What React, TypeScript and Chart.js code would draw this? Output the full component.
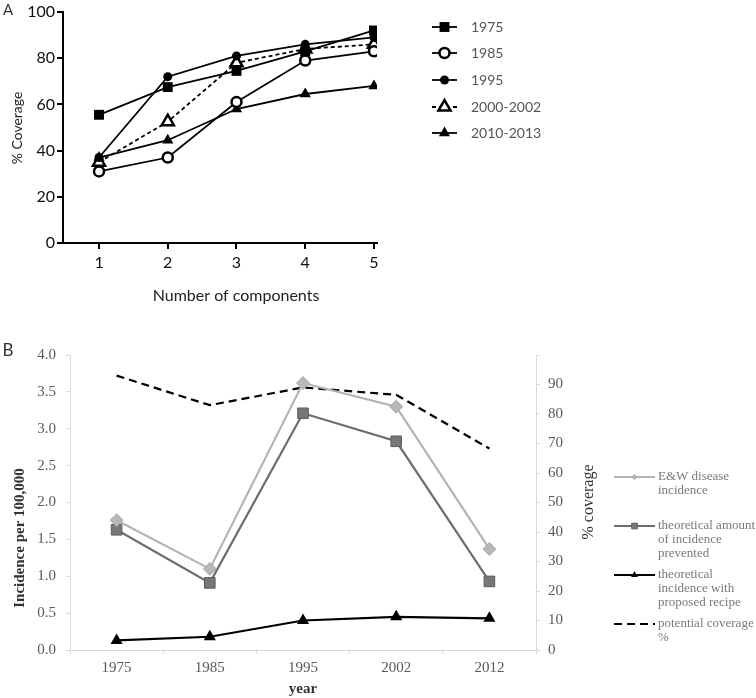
import React, { useEffect, useRef } from "react";
import { Chart, registerables } from "chart.js";
Chart.register(...registerables);

// ---------- Panel A data ----------
const componentCounts = [1, 2, 3, 4, 5];
const cov1975 = [55.5, 67.5, 74.5, 83, 92];
const cov1985 = [31, 37, 61, 79, 83];
const cov1995 = [37, 72, 81, 86, 89];
const cov2000 = [35, 52.5, 78, 84, 86];
const cov2010 = [37, 44.5, 58, 64.5, 68];
const seriesNamesA = ["1975", "1985", "1995", "2000-2002", "2010-2013"];

// ---------- Panel B data ----------
const years = ["1975", "1985", "1995", "2002", "2012"];
const ewIncidence = [1.76, 1.1, 3.62, 3.3, 1.37];
const preventedIncidence = [1.63, 0.91, 3.21, 2.83, 0.93];
const recipeIncidence = [0.13, 0.18, 0.4, 0.45, 0.43];
const potentialCoverage = [93, 83, 89, 86.5, 68.3];
const legendLinesB = [
  ["E&W disease", "incidence"],
  ["theoretical amount", "of incidence", "prevented"],
  ["theoretical", "incidence with", "proposed recipe"],
  ["potential coverage", "%"],
];

type TextItem = {
  text: string;
  x: number;
  y: number;
  font: string;
  color: string;
  rotate?: number;
  align?: CanvasTextAlign;
};

function drawMarker(
  ctx: CanvasRenderingContext2D,
  style: string,
  x: number,
  y: number,
  r: number,
  fill: string,
  stroke: string,
  bw: number
) {
  ctx.beginPath();
  if (style === "rect") {
    const s = Math.SQRT1_2 * r;
    ctx.rect(x - s, y - s, 2 * s, 2 * s);
  } else if (style === "circle") {
    ctx.arc(x, y, r, 0, Math.PI * 2);
  } else if (style === "triangle") {
    ctx.moveTo(x, y - r);
    ctx.lineTo(x + r * Math.sin((2 * Math.PI) / 3), y - r * Math.cos((2 * Math.PI) / 3));
    ctx.lineTo(x + r * Math.sin((4 * Math.PI) / 3), y - r * Math.cos((4 * Math.PI) / 3));
    ctx.closePath();
  } else if (style === "rectRot") {
    ctx.moveTo(x - r, y);
    ctx.lineTo(x, y - r);
    ctx.lineTo(x + r, y);
    ctx.lineTo(x, y + r);
    ctx.closePath();
  }
  ctx.fillStyle = fill;
  ctx.fill();
  if (bw > 0) {
    ctx.lineWidth = bw;
    ctx.strokeStyle = stroke;
    ctx.stroke();
  }
}

function textPlugin(items: TextItem[]) {
  return {
    id: "extraText",
    afterDraw(chart: any) {
      const ctx: CanvasRenderingContext2D = chart.ctx;
      items.forEach((it) => {
        ctx.save();
        ctx.translate(it.x, it.y);
        if (it.rotate) ctx.rotate(it.rotate);
        ctx.font = it.font;
        ctx.fillStyle = it.color;
        ctx.textAlign = it.align || "center";
        ctx.textBaseline = "middle";
        ctx.fillText(it.text, 0, 0);
        ctx.restore();
      });
    },
  };
}

type LegendCfg = {
  x0: number;
  x1: number;
  textX: number;
  lineHeight: number;
  font: string;
  color: string;
  rows: { ds: number; y: number; lines: string[]; r?: number }[];
};

function legendPlugin(cfg: LegendCfg) {
  return {
    id: "customLegend",
    afterDraw(chart: any) {
      const ctx: CanvasRenderingContext2D = chart.ctx;
      cfg.rows.forEach((row) => {
        const ds: any = chart.data.datasets[row.ds];
        ctx.save();
        ctx.strokeStyle = ds.borderColor;
        ctx.lineWidth = ds.borderWidth;
        ctx.setLineDash(ds.borderDash || []);
        ctx.beginPath();
        ctx.moveTo(cfg.x0, row.y);
        ctx.lineTo(cfg.x1, row.y);
        ctx.stroke();
        ctx.setLineDash([]);
        const r = row.r !== undefined ? row.r : ds.pointRadius;
        if (r > 0) {
          drawMarker(
            ctx,
            ds.pointStyle,
            (cfg.x0 + cfg.x1) / 2,
            row.y,
            r,
            ds.pointBackgroundColor,
            ds.pointBorderColor,
            ds.pointBorderWidth
          );
        }
        ctx.font = cfg.font;
        ctx.fillStyle = cfg.color;
        ctx.textAlign = "left";
        ctx.textBaseline = "middle";
        row.lines.forEach((ln, i) => ctx.fillText(ln, cfg.textX, row.y + i * cfg.lineHeight));
        ctx.restore();
      });
    },
  };
}

const sansA = "Lato";
const serifB = "'Liberation Serif'";

function topConfig(): any {
  const mk = (vals: number[]) => componentCounts.map((c, i) => ({ x: c, y: vals[i] }));
  const base = { borderColor: "#000", borderWidth: 1.8, pointBorderColor: "#000" };
  const datasets = [
    { ...base, label: seriesNamesA[0], data: mk(cov1975), pointStyle: "rect", pointRadius: 7, pointBackgroundColor: "#000", pointBorderWidth: 0 },
    { ...base, label: seriesNamesA[1], data: mk(cov1985), pointStyle: "circle", pointRadius: 5, pointBackgroundColor: "#fff", pointBorderWidth: 2.5 },
    { ...base, label: seriesNamesA[2], data: mk(cov1995), pointStyle: "circle", pointRadius: 4.5, pointBackgroundColor: "#000", pointBorderWidth: 0 },
    { ...base, label: seriesNamesA[3], data: mk(cov2000), borderDash: [4, 3], pointStyle: "triangle", pointRadius: 7, pointBackgroundColor: "#fff", pointBorderWidth: 2.5 },
    { ...base, label: seriesNamesA[4], data: mk(cov2010), pointStyle: "triangle", pointRadius: 6.5, pointBackgroundColor: "#000", pointBorderWidth: 0 },
  ];
  const axisGrid = { drawOnChartArea: false, drawTicks: true, tickLength: 6, color: "#000", lineWidth: 2 };
  return {
    type: "line",
    data: { datasets },
    options: {
      animation: false,
      responsive: false,
      devicePixelRatio: 1,
      layout: { padding: { top: 12, left: 0, right: 756 - 377, bottom: 0 } },
      plugins: { legend: { display: false }, tooltip: { enabled: false } },
      elements: { line: { tension: 0 } },
      scales: {
        x: {
          type: "linear",
          min: 0.476,
          max: 5.044,
          afterBuildTicks: (s: any) => {
            s.ticks = componentCounts.map((v) => ({ value: v }));
          },
          afterFit: (s: any) => {
            s.height = 336 - 243;
          },
          grid: axisGrid,
          border: { color: "#000", width: 2 },
          ticks: { padding: 4, color: "#111", font: { family: sansA, size: 16 }, callback: (v: any) => String(v) },
        },
        y: {
          min: 0,
          max: 100,
          afterFit: (s: any) => {
            s.width = 63;
          },
          grid: axisGrid,
          border: { color: "#000", width: 2 },
          ticks: { stepSize: 20, padding: 2, color: "#111", font: { family: sansA, size: 16 } },
        },
      },
    },
    plugins: [
      textPlugin([
        { text: "A", x: 8, y: 10, font: `15px ${sansA}`, color: "#333" },
        { text: "% Coverage", x: 17, y: 128, font: `14px ${sansA}`, color: "#222", rotate: -Math.PI / 2 },
        { text: "Number of components", x: 236, y: 296, font: `16px ${sansA}`, color: "#222" },
      ]),
      legendPlugin({
        x0: 432,
        x1: 457,
        textX: 471,
        lineHeight: 16,
        font: `14px ${sansA}`,
        color: "#555",
        rows: [
          { ds: 0, y: 27, lines: [seriesNamesA[0]] },
          { ds: 1, y: 53, lines: [seriesNamesA[1]] },
          { ds: 2, y: 80, lines: [seriesNamesA[2]] },
          { ds: 3, y: 107, lines: [seriesNamesA[3]] },
          { ds: 4, y: 133, lines: [seriesNamesA[4]] },
        ],
      }),
    ],
  };
}

function bottomConfig(): any {
  const datasets = [
    {
      label: legendLinesB[0].join(" "),
      data: ewIncidence,
      yAxisID: "y",
      borderColor: "#b3b3b3",
      borderWidth: 2.2,
      pointStyle: "rectRot",
      pointRadius: 6.5,
      pointBackgroundColor: "#b8b8b8",
      pointBorderColor: "#aaaaaa",
      pointBorderWidth: 1,
    },
    {
      label: legendLinesB[1].join(" "),
      data: preventedIncidence,
      yAxisID: "y",
      borderColor: "#6e6e6e",
      borderWidth: 2.2,
      pointStyle: "rect",
      pointRadius: 7.5,
      pointBackgroundColor: "#777777",
      pointBorderColor: "#5e5e5e",
      pointBorderWidth: 1,
    },
    {
      label: legendLinesB[2].join(" "),
      data: recipeIncidence,
      yAxisID: "y",
      borderColor: "#000",
      borderWidth: 2.2,
      pointStyle: "triangle",
      pointRadius: 7,
      pointBackgroundColor: "#000",
      pointBorderColor: "#000",
      pointBorderWidth: 0,
    },
    {
      label: legendLinesB[3].join(" "),
      data: potentialCoverage,
      yAxisID: "y1",
      borderColor: "#000",
      borderWidth: 2.2,
      borderDash: [8, 5],
      pointStyle: "circle",
      pointRadius: 0,
      pointBackgroundColor: "#000",
      pointBorderColor: "#000",
      pointBorderWidth: 0,
    },
  ];
  const lightGrid = { drawOnChartArea: false, drawTicks: true, tickLength: 4, color: "#d9d9d9", lineWidth: 1 };
  const tickFont = { family: serifB, size: 15 };
  return {
    type: "line",
    data: { labels: years, datasets },
    options: {
      animation: false,
      responsive: false,
      devicePixelRatio: 1,
      layout: { padding: { top: 18, left: 0, right: 0, bottom: 0 } },
      plugins: { legend: { display: false }, tooltip: { enabled: false } },
      elements: { line: { tension: 0 } },
      scales: {
        x: {
          type: "category",
          offset: true,
          afterFit: (s: any) => {
            s.height = 362 - 314;
          },
          grid: { ...lightGrid, offset: true },
          border: { color: "#d9d9d9", width: 1 },
          ticks: { padding: 5, color: "#595959", font: tickFont },
        },
        y: {
          position: "left",
          min: 0,
          max: 4,
          afterFit: (s: any) => {
            s.width = 70;
          },
          grid: lightGrid,
          border: { color: "#d9d9d9", width: 1 },
          ticks: { stepSize: 0.5, padding: 10, color: "#595959", font: tickFont, callback: (v: any) => Number(v).toFixed(1) },
        },
        y1: {
          position: "right",
          min: 0,
          max: 100,
          afterFit: (s: any) => {
            s.width = 756 - 536;
          },
          grid: lightGrid,
          border: { color: "#d9d9d9", width: 1 },
          ticks: { stepSize: 10, padding: 8, color: "#595959", font: tickFont, callback: (v: any) => (Number(v) >= 100 ? "" : String(v)) },
        },
      },
    },
    plugins: [
      textPlugin([
        { text: "B", x: 8, y: 15, font: `17px ${sansA}`, color: "#333" },
        { text: "Incidence per 100,000", x: 20, y: 202, font: `bold 15px ${serifB}`, color: "#333", rotate: -Math.PI / 2 },
        { text: "year", x: 303, y: 353, font: `bold 15px ${serifB}`, color: "#333" },
        { text: "% coverage", x: 589, y: 166, font: `16px ${serifB}`, color: "#333", rotate: -Math.PI / 2 },
      ]),
      legendPlugin({
        x0: 614,
        x1: 655,
        textX: 658,
        lineHeight: 14,
        font: `13px ${serifB}`,
        color: "#7a7a7a",
        rows: [
          { ds: 0, y: 477 - 336, lines: legendLinesB[0], r: 2.5 },
          { ds: 1, y: 526 - 336, lines: legendLinesB[1], r: 4 },
          { ds: 2, y: 575 - 336, lines: legendLinesB[2], r: 4 },
          { ds: 3, y: 624 - 336, lines: legendLinesB[3], r: 0 },
        ],
      }),
    ],
  };
}

export default function App() {
  const topRef = useRef<HTMLCanvasElement>(null);
  const botRef = useRef<HTMLCanvasElement>(null);
  useEffect(() => {
    const c1 = new Chart(topRef.current as HTMLCanvasElement, topConfig());
    const c2 = new Chart(botRef.current as HTMLCanvasElement, bottomConfig());
    return () => {
      c1.destroy();
      c2.destroy();
    };
  }, []);
  return (
    <div style={{ position: "absolute", left: 0, top: 0, width: 756, height: 698, background: "#fff" }}>
      <canvas ref={topRef} width={756} height={336} style={{ position: "absolute", left: 0, top: 0 }} />
      <canvas ref={botRef} width={756} height={362} style={{ position: "absolute", left: 0, top: 336 }} />
    </div>
  );
}
